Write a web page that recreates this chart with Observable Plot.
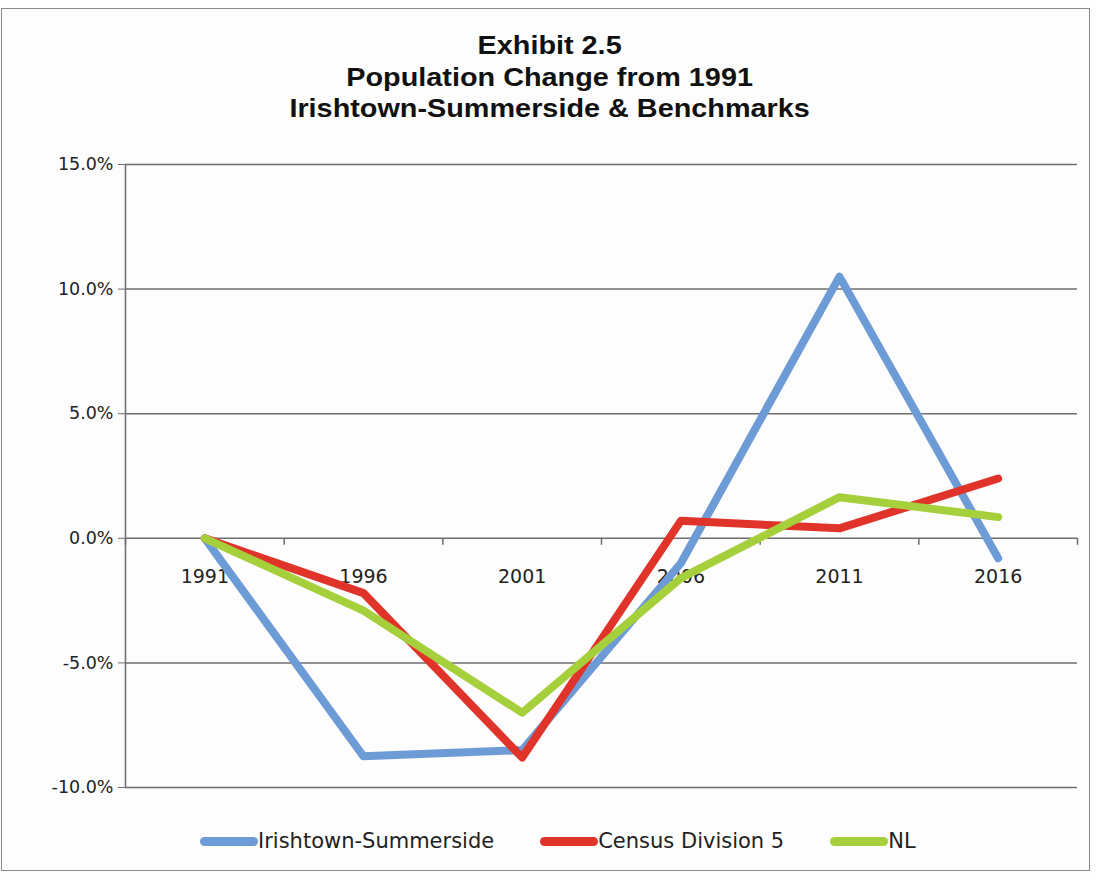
<!DOCTYPE html>
<html>
<head>
<meta charset="utf-8">
<script src="https://cdn.jsdelivr.net/npm/d3@7"></script>
<script src="https://cdn.jsdelivr.net/npm/@observablehq/plot@0.6"></script>
<style>
  html, body { margin: 0; padding: 0; background: #fff; }
  #wrap { position: relative; width: 1096px; height: 880px; overflow: hidden; background: #fdfdfd; }
  #frame { position: absolute; left: 1px; top: 8px; width: 1089px; height: 863px; border: 1.5px solid #8a8a8a; box-sizing: border-box; }
  #title { position: absolute; left: 0; width: 1100px; top: 30px; text-align: center;
           font-family: "Liberation Sans", Arial, sans-serif; font-weight: bold; font-size: 25.5px; line-height: 31.5px; color: #111;
           transform: scaleX(1.13); transform-origin: 553px 0; }
  #chart { position: absolute; left: 0; top: 0; }
  #legend { position: absolute; top: 829px; left: 200px; display: flex; align-items: center;
            font-family: "DejaVu Sans", sans-serif; font-size: 21px; color: #222; }
  .item { display: flex; align-items: center; margin-right: 46px; }
  .sw { width: 58px; height: 9px; border-radius: 5px; }
</style>
</head>
<body>
<div id="wrap">
  <div id="frame"></div>
  <div id="title"></div>
  <div id="chart"></div>
  <div id="legend"></div>
</div>
<script>
const titleLines = ["Exhibit 2.5", "Population Change from 1991", "Irishtown-Summerside & Benchmarks"];
const years = [1991, 1996, 2001, 2006, 2011, 2016];
const irishtown = [0, -8.75, -8.5, -1.0, 10.5, -0.8];
const censusDiv5 = [0, -2.2, -8.8, 0.7, 0.4, 2.4];
const nl = [0, -2.9, -7.0, -1.6, 1.65, 0.85];
const seriesNames = ["Irishtown-Summerside", "Census Division 5", "NL"];
const seriesColors = ["#6d9bd6", "#e0332a", "#a6cf3c"];
const yTicks = [-10, -5, 0, 5, 10, 15];

const seriesValues = [irishtown, censusDiv5, nl];
const rows = [];
seriesNames.forEach((name, i) => {
  years.forEach((yr, j) => rows.push({series: name, year: yr, value: seriesValues[i][j]}));
});
const half = (years[1] - years[0]) / 2;
const boundaries = [years[0] - half, ...years.map(y => y + half)];

document.getElementById("title").innerHTML = titleLines.map(t => `<div>${t.replace("&", "&amp;")}</div>`).join("");

const chart = Plot.plot({
  width: 1096,
  height: 880,
  marginTop: 164,
  marginBottom: 93,
  marginLeft: 125,
  marginRight: 19,
  x: {type: "linear", domain: [years[0] - half, years[years.length - 1] + half], axis: null},
  y: {domain: [-10, 15]},
  color: {domain: seriesNames, range: seriesColors},
  style: {fontFamily: "DejaVu Sans, sans-serif", fontSize: "17.5px", color: "#222", background: "transparent", overflow: "visible"},
  marks: [
    Plot.ruleY(yTicks, {stroke: "#6e6e6e", strokeWidth: 1.5}),
    Plot.ruleX([boundaries[0]], {stroke: "#6e6e6e", strokeWidth: 1.5}),
    Plot.ruleX(boundaries, {y1: 0, y2: -0.28, stroke: "#6e6e6e", strokeWidth: 1.5}),
    Plot.axisY({ticks: yTicks, tickFormat: d => d.toFixed(1) + "%", tickSize: 7, tickPadding: 5, stroke: "#6e6e6e", label: null, fill: "#222"}),
    Plot.text(years, {x: d => d, y: 0, dy: 39, text: d => String(d), fontSize: 19, fill: "#222"}),
    Plot.line(rows, {x: "year", y: "value", z: "series", stroke: "series", strokeWidth: 8, strokeLinecap: "round", strokeLinejoin: "round"})
  ]
});
document.getElementById("chart").appendChild(chart);

const legend = document.getElementById("legend");
seriesNames.forEach((name, i) => {
  const it = document.createElement("div");
  it.className = "item";
  it.innerHTML = `<div class="sw" style="background:${seriesColors[i]}"></div><span>${name}</span>`;
  legend.appendChild(it);
});
</script>
</body>
</html>
